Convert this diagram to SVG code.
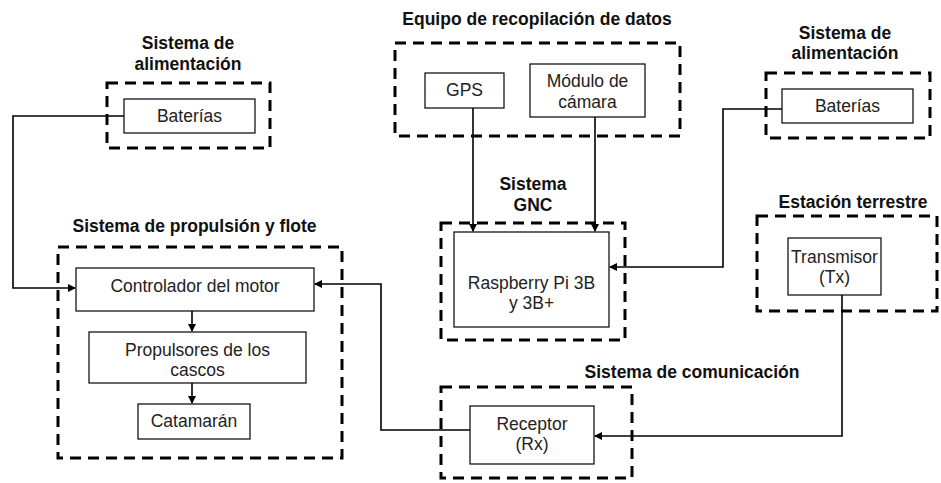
<svg xmlns="http://www.w3.org/2000/svg" width="941" height="483" viewBox="0 0 941 483">
<style>
.grp{fill:none;stroke:#000;stroke-width:3;stroke-dasharray:11 7}
.box{fill:#fff;stroke:#000;stroke-width:1.2}
.t{font-family:"Liberation Sans",Arial,sans-serif;font-size:17.5px;fill:#222;text-anchor:middle}
.h{font-family:"Liberation Sans",Arial,sans-serif;font-size:17.5px;font-weight:bold;fill:#111;text-anchor:middle}
.c{fill:none;stroke:#000;stroke-width:1.6}
</style>
<defs>
<marker id="ar" markerWidth="8" markerHeight="8" refX="7" refY="4" orient="auto" markerUnits="userSpaceOnUse">
<path d="M0,0 L8,4 L0,8 z" fill="#000"/>
</marker>
</defs>
<rect width="941" height="483" fill="#fff"/>

<g id="alim-izq">
<text class="h" x="188" y="49">Sistema de</text>
<text class="h" x="188" y="70">alimentación</text>
<rect class="grp" x="107" y="83" width="163" height="65"/>
<rect class="box" x="124" y="99" width="131" height="34"/>
<text class="t" x="189.5" y="122">Baterías</text>
</g>

<g id="equipo">
<text class="h" x="537" y="25">Equipo de recopilación de datos</text>
<rect class="grp" x="395" y="43" width="285" height="93"/>
<rect class="box" x="425" y="73" width="79" height="35"/>
<text class="t" x="464.5" y="96">GPS</text>
<rect class="box" x="530" y="64" width="115" height="53"/>
<text class="t" x="587.5" y="87">Módulo de</text>
<text class="t" x="587.5" y="108">cámara</text>
</g>

<g id="alim-der">
<text class="h" x="845" y="39">Sistema de</text>
<text class="h" x="845" y="59">alimentación</text>
<rect class="grp" x="766" y="73" width="164" height="65"/>
<rect class="box" x="782" y="89" width="131" height="34"/>
<text class="t" x="847.5" y="112">Baterías</text>
</g>

<g id="gnc">
<text class="h" x="533" y="190">Sistema</text>
<text class="h" x="533" y="211">GNC</text>
<rect class="grp" x="441" y="223" width="184" height="117"/>
<rect class="box" x="454" y="232" width="155" height="95"/>
<text class="t" x="531.5" y="289">Raspberry Pi 3B</text>
<text class="t" x="531.5" y="309">y 3B+</text>
</g>

<g id="propulsion">
<text class="h" x="194.5" y="232">Sistema de propulsión y flote</text>
<rect class="grp" x="58" y="247" width="284" height="211"/>
<rect class="box" x="76" y="268" width="238" height="43"/>
<text class="t" x="195" y="292">Controlador del motor</text>
<rect class="box" x="89" y="332" width="217" height="51"/>
<text class="t" x="197.5" y="356">Propulsores de los</text>
<text class="t" x="197.5" y="376">cascos</text>
<rect class="box" x="138" y="404" width="112" height="35"/>
<text class="t" x="194" y="427">Catamarán</text>
</g>

<g id="comunicacion">
<text class="h" x="692" y="378">Sistema de comunicación</text>
<rect class="grp" x="441" y="387" width="191" height="91"/>
<rect class="box" x="470" y="406" width="124" height="58"/>
<text class="t" x="532" y="430">Receptor</text>
<text class="t" x="532" y="450">(Rx)</text>
</g>

<g id="estacion">
<text class="h" x="853" y="208">Estación terrestre</text>
<rect class="grp" x="757" y="216" width="180" height="95"/>
<rect class="box" x="788" y="238" width="93" height="57"/>
<text class="t" x="834.5" y="263">Transmisor</text>
<text class="t" x="834.5" y="283">(Tx)</text>
</g>

<g id="connectors">
<path class="c" d="M124,116 H13 V288 H75" marker-end="url(#ar)"/>
<path class="c" d="M473,108 V231" marker-end="url(#ar)"/>
<path class="c" d="M595,117 V231" marker-end="url(#ar)"/>
<path class="c" d="M782,109 H723 V267 H610" marker-end="url(#ar)"/>
<path class="c" d="M470,430 H381 V284 H315" marker-end="url(#ar)"/>
<path class="c" d="M842,295 V436 H595" marker-end="url(#ar)"/>
<path class="c" d="M192,311 V331" marker-end="url(#ar)"/>
<path class="c" d="M192,383 V403" marker-end="url(#ar)"/>
</g>
</svg>
